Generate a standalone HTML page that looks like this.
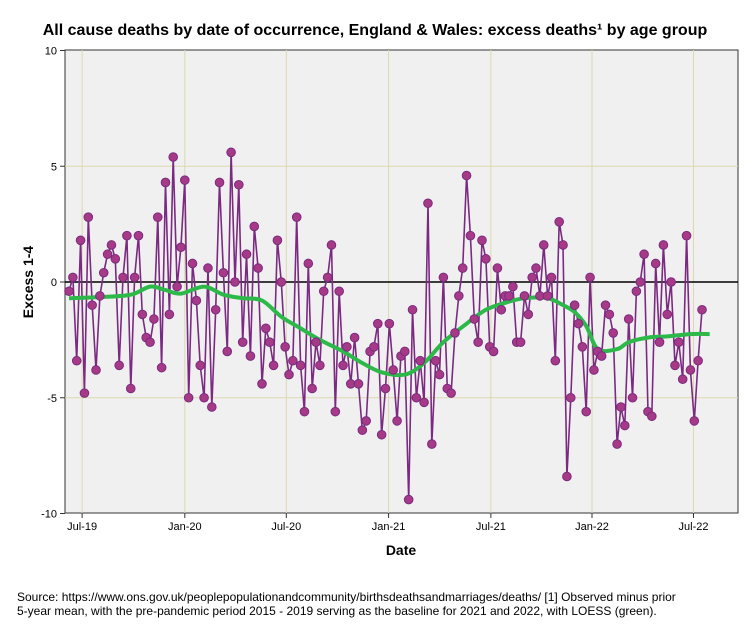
<!DOCTYPE html>
<html><head><meta charset="utf-8"><style>
body{margin:0;background:#fff;width:754px;height:624px;overflow:hidden;font-family:"Liberation Sans",Arial,sans-serif}
</style></head><body>
<svg id="chart" width="754" height="624" xmlns="http://www.w3.org/2000/svg" font-family="Liberation Sans, Arial, sans-serif">
<rect width="754" height="624" fill="#fff"/>
<text x="375" y="35" text-anchor="middle" font-size="16" font-weight="bold">All cause deaths by date of occurrence, England &amp; Wales: excess deaths¹ by age group</text>
<rect x="65" y="50" width="673" height="463" fill="#f0f0f0" stroke="#333" stroke-width="1"/>
<g id="grid"></g>
<g id="axes"></g>
<g id="series"></g>
<text x="401" y="555" text-anchor="middle" font-size="14" font-weight="bold">Date</text>
<text transform="translate(33,282) rotate(-90)" text-anchor="middle" font-size="14" font-weight="bold">Excess 1-4</text>
<text x="17" y="601" font-size="12">Source: https://www.ons.gov.uk/peoplepopulationandcommunity/birthsdeathsandmarriages/deaths/  [1] Observed minus prior</text>
<text x="17" y="615" font-size="12">5-year mean, with the pre-pandemic period 2015 - 2019 serving as the baseline for 2021 and 2022, with LOESS (green).</text>
</svg>
<script>
const values=[-0.4,0.2,-3.4,1.8,-4.8,2.8,-1.0,-3.8,-0.6,0.4,1.2,1.6,1.0,-3.6,0.2,2.0,-4.6,0.2,2.0,-1.4,-2.4,-2.6,-1.6,2.8,-3.7,4.3,-1.4,5.4,-0.2,1.5,4.4,-5.0,0.8,-0.8,-3.6,-5.0,0.6,-5.4,-1.2,4.3,0.4,-3.0,5.6,0,4.2,-2.6,1.2,-3.2,2.4,0.6,-4.4,-2.0,-2.6,-3.6,1.8,0,-2.8,-4.0,-3.4,2.8,-3.6,-5.6,0.8,-4.6,-2.6,-3.6,-0.4,0.2,1.6,-5.6,-0.4,-3.6,-2.8,-4.4,-2.4,-4.4,-6.4,-6.0,-3.0,-2.8,-1.8,-6.6,-4.6,-1.8,-3.8,-6.0,-3.2,-3.0,-9.4,-1.2,-5.0,-3.4,-5.2,3.4,-7.0,-3.4,-4.0,0.2,-4.6,-4.8,-2.2,-0.6,0.6,4.6,2.0,-1.6,-2.6,1.8,1.0,-2.8,-3.0,0.6,-1.2,-0.6,-0.6,-0.2,-2.6,-2.6,-0.6,-1.4,0.2,0.6,-0.6,1.6,-0.6,0.2,-3.4,2.6,1.6,-8.4,-5.0,-1.0,-1.8,-2.8,-5.6,0.2,-3.8,-3.0,-3.2,-1.0,-1.4,-2.2,-7.0,-5.4,-6.2,-1.6,-5.0,-0.4,0,1.2,-5.6,-5.8,0.8,-2.6,1.6,-1.4,0,-3.6,-2.6,-4.2,2.0,-3.8,-6.0,-3.4,-1.2];
const loessIdx=[0,8,16,21,25,29,35,40,45,50,55,60,65,71,76,81,87,92,97,103,108,113,118,124,128,131,134,137,142,145,150,155,161,166];
const loessVal=[-0.7,-0.65,-0.55,-0.2,-0.35,-0.5,-0.2,-0.55,-0.7,-0.8,-1.5,-2.0,-2.5,-3.0,-3.5,-3.9,-4.0,-3.5,-2.6,-1.8,-1.2,-0.9,-0.7,-0.7,-1.0,-1.3,-1.9,-2.9,-2.9,-2.6,-2.4,-2.35,-2.25,-2.25];
const yTicks=[10,5,0,-5,-10];
const xTickLabels=["Jul-19","Jan-20","Jul-20","Jan-21","Jul-21","Jan-22","Jul-22"];
const xTickPos=[3.4,30,56.3,82.8,109.3,135.5,161.8];
const NS="http://www.w3.org/2000/svg";
const n=values.length;
function xs(i){return 69+i*(702-69)/(n-1);}
function ys(v){return 282-v*(463/20);}
function mk(tag,attrs,parent){const e=document.createElementNS(NS,tag);for(const k in attrs)e.setAttribute(k,attrs[k]);parent.appendChild(e);return e;}
const grid=document.getElementById('grid'),axes=document.getElementById('axes'),series=document.getElementById('series');
yTicks.forEach(t=>{
  const y=ys(t);
  if(t!==0&&Math.abs(t)!==10){const g=mk('line',{x1:65,x2:738,y1:y,y2:y,stroke:'#ddd8b0','stroke-width':1},grid);
  
  }
  const tk=mk('line',{x1:60,x2:65,y1:y,y2:y,stroke:'#333'},axes);
  
  
  const l=mk('text',{x:57,y:y+4,'text-anchor':'end','font-size':11},axes);l.textContent=t;
  
  
});
xTickLabels.forEach((lab,k)=>{
  const x=xs(xTickPos[k]);
  const g=mk('line',{x1:x,x2:x,y1:50,y2:513,stroke:'#ddd8b0','stroke-width':1},grid);
  
  
  const tk=mk('line',{x1:x,x2:x,y1:513,y2:518,stroke:'#333'},axes);
  
  
  const l=mk('text',{x:x,y:530,'text-anchor':'middle','font-size':11},axes);l.textContent=lab;
  
  
});
const zl=mk('line',{x1:65,x2:738,y1:ys(0),y2:ys(0),stroke:'#000','stroke-width':1.5},grid);


const pts=values.map((v,i)=>xs(i).toFixed(1)+','+ys(v).toFixed(1)).join(' ');
const pl=mk('polyline',{points:pts,fill:'none',stroke:'#7b2a82','stroke-width':1.6},series);


const P=loessIdx.map((ix,k)=>[xs(ix),ys(loessVal[k])]);
let d='M'+P[0][0].toFixed(1)+','+P[0][1].toFixed(1);
for(let k=0;k<P.length-1;k++){
  const p0=P[Math.max(0,k-1)],p1=P[k],p2=P[k+1],p3=P[Math.min(P.length-1,k+2)];
  const c1=[p1[0]+(p2[0]-p0[0])/6,p1[1]+(p2[1]-p0[1])/6];
  const c2=[p2[0]-(p3[0]-p1[0])/6,p2[1]-(p3[1]-p1[1])/6];
  d+=' C'+c1[0].toFixed(1)+','+c1[1].toFixed(1)+' '+c2[0].toFixed(1)+','+c2[1].toFixed(1)+' '+p2[0].toFixed(1)+','+p2[1].toFixed(1);
}
const lo=mk('path',{d:d,fill:'none',stroke:'#2db84a','stroke-width':4,'stroke-linejoin':'round','stroke-linecap':'butt'},series);


values.forEach((v,i)=>{
  const c=mk('circle',{cx:xs(i),cy:ys(v),r:4.3,fill:'#a63a87',stroke:'#7b2a82','stroke-width':1},series);
  
  
});
</script>
</body></html>
